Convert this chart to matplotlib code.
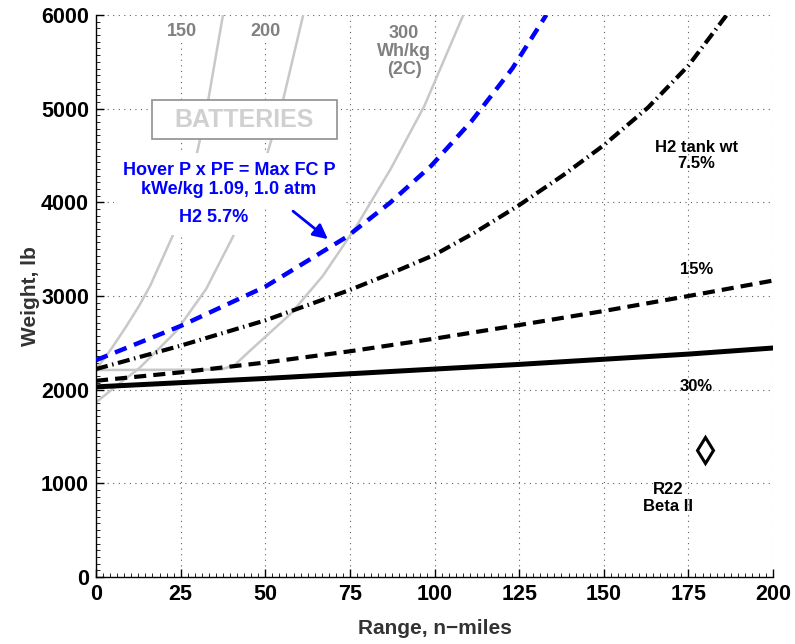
import matplotlib
matplotlib.use("Agg")
import matplotlib.pyplot as plt
from matplotlib.patches import Rectangle
from matplotlib.ticker import MultipleLocator, AutoMinorLocator

plt.rcParams["font.family"] = ["Liberation Sans", "DejaVu Sans"]
plt.rcParams["font.weight"] = "bold"

# hydrogen fuel cell cases: range (n-miles) vs gross weight (lb)
rng = [0, 25, 50, 75, 100, 125, 150, 175, 200]
w_tank30 = [2030, 2075, 2120, 2170, 2220, 2270, 2325, 2380, 2445]
w_tank15 = [2095, 2185, 2290, 2410, 2545, 2690, 2840, 3000, 3165]
rng_tank75 = [0, 25, 50, 75, 87, 100, 112, 125, 138, 150, 163, 175, 186.3]
w_tank75 = [2220, 2470, 2740, 3065, 3240, 3440, 3680, 3970, 4290, 4610, 5010, 5460, 6000]
rng_hover = [0, 25, 50, 74, 87, 99, 111, 123, 133]
w_hover = [2315, 2680, 3100, 3630, 4000, 4390, 4870, 5430, 6000]

# battery cases, Wh/kg
rng_b150 = [0, 4.4, 9, 12.8, 16, 22.6, 29.2, 32.8, 37.5]
w_b150 = [2215, 2430, 2680, 2900, 3110, 3640, 4420, 5020, 6000]
rng_b200 = [0, 6, 12.8, 23.6, 32.5, 40.4, 50.4, 55.3, 61.2]
w_b200 = [1865, 2040, 2230, 2620, 3073, 3630, 4496, 5100, 6000]
rng_b300 = [0, 37, 41, 45, 57.5, 67, 77, 87, 97, 108.5]
w_b300 = [2210, 2215, 2265, 2400, 2810, 3215, 3750, 4354, 5030, 6000]

# R22 Beta II
r22_rng = [180]
r22_w = [1355]

fig = plt.figure(figsize=(7.95, 6.44), dpi=100)
ax = fig.add_axes([0.1208, 0.104, 0.8516, 0.8727])

gray = "#c8c8c8"
for r, w in [(rng_b150, w_b150), (rng_b200, w_b200), (rng_b300, w_b300)]:
    ax.plot(r, w, color=gray, lw=1.8, zorder=2)

ax.plot(rng, w_tank30, color="black", lw=3.6, zorder=5)
ax.plot(rng, w_tank15, color="black", lw=3, ls=(0, (2.9, 1.7)), zorder=5)
ax.plot(rng_tank75, w_tank75, color="black", lw=3, ls=(0, (2.9, 1.1, 0.35, 1.1)), zorder=5)
ax.plot(rng_hover, w_hover, color="blue", lw=3.2, ls=(0, (2.8, 1.8)), zorder=5)
ax.plot(r22_rng, r22_w, ls="none", marker="d", ms=13, mfc="white", mec="black", mew=2.2, zorder=6)

# labels
lab_gray = dict(color="#808080", fontsize=13, fontweight="bold", ha="center", va="center",
                zorder=3, bbox=dict(boxstyle="square,pad=0.15", fc="white", ec="none"))
ax.text(25.4, 5827, "150", **lab_gray)
ax.text(50.2, 5827, "200", **lab_gray)
ax.text(91, 5610, "300\nWh/kg\n(2C)", linespacing=1.1, **lab_gray)

ax.add_patch(Rectangle((16.5, 4675), 54.7, 415, fc="white", ec="#909090", lw=1.2, zorder=3))
ax.text(43.8, 4882, "BATTERIES", color="#d0d0d0", fontsize=18, fontweight="bold",
        ha="center", va="center", zorder=4)

blue_box = dict(boxstyle="square,pad=0.5", fc="white", ec="none")
ax.text(39.3, 4236, "Hover P x PF = Max FC P\nkWe/kg 1.09, 1.0 atm", color="blue",
        fontsize=13, fontweight="bold", ha="center", va="center", linespacing=1.15,
        zorder=3, bbox=blue_box)
ax.text(34.6, 3835, "H2 5.7%", color="blue", fontsize=13, fontweight="bold",
        ha="center", va="center", zorder=3, bbox=blue_box)
ax.annotate("", xy=(68.5, 3607), xytext=(58.2, 3906),
            arrowprops=dict(arrowstyle="-|>", color="blue", lw=2, mutation_scale=22,
                            shrinkA=0, shrinkB=0), zorder=6)

txt = dict(color="black", fontsize=12, fontweight="bold", ha="center", va="center")
ax.text(177.3, 4500, "H2 tank wt\n7.5%", linespacing=1.1, **txt)
ax.text(177.3, 3287, "15%", **txt)
ax.text(177.3, 2038, "30%", **txt)
ax.text(169, 843, "R22\nBeta II", linespacing=1.1, **txt)

ax.set_xlim(0, 200)
ax.set_ylim(0, 6000)
ax.xaxis.set_major_locator(MultipleLocator(25))
ax.yaxis.set_major_locator(MultipleLocator(1000))
ax.xaxis.set_minor_locator(AutoMinorLocator(12))
ax.yaxis.set_minor_locator(AutoMinorLocator(14))
ax.grid(True, which="major", color="#606060", lw=0.8, ls=(0, (1, 4)), zorder=0)
ax.set_axisbelow(True)

for s in ["top", "right"]:
    ax.spines[s].set_visible(False)
ax.spines["left"].set_linewidth(1)
ax.spines["bottom"].set_linewidth(1)
ax.tick_params(which="major", direction="in", length=6, width=1, labelsize=15.5, pad=5)
ax.tick_params(which="minor", direction="in", length=3, width=0.6)
for lbl in ax.get_xticklabels() + ax.get_yticklabels():
    lbl.set_fontweight("bold")

ax.set_xlabel("Range, n\u2212miles", fontsize=15, fontweight="bold", color="#333333", labelpad=10)
ax.set_ylabel("Weight, lb", fontsize=15, fontweight="bold", color="#333333", labelpad=1)

fig.savefig("out.png", dpi=100)
